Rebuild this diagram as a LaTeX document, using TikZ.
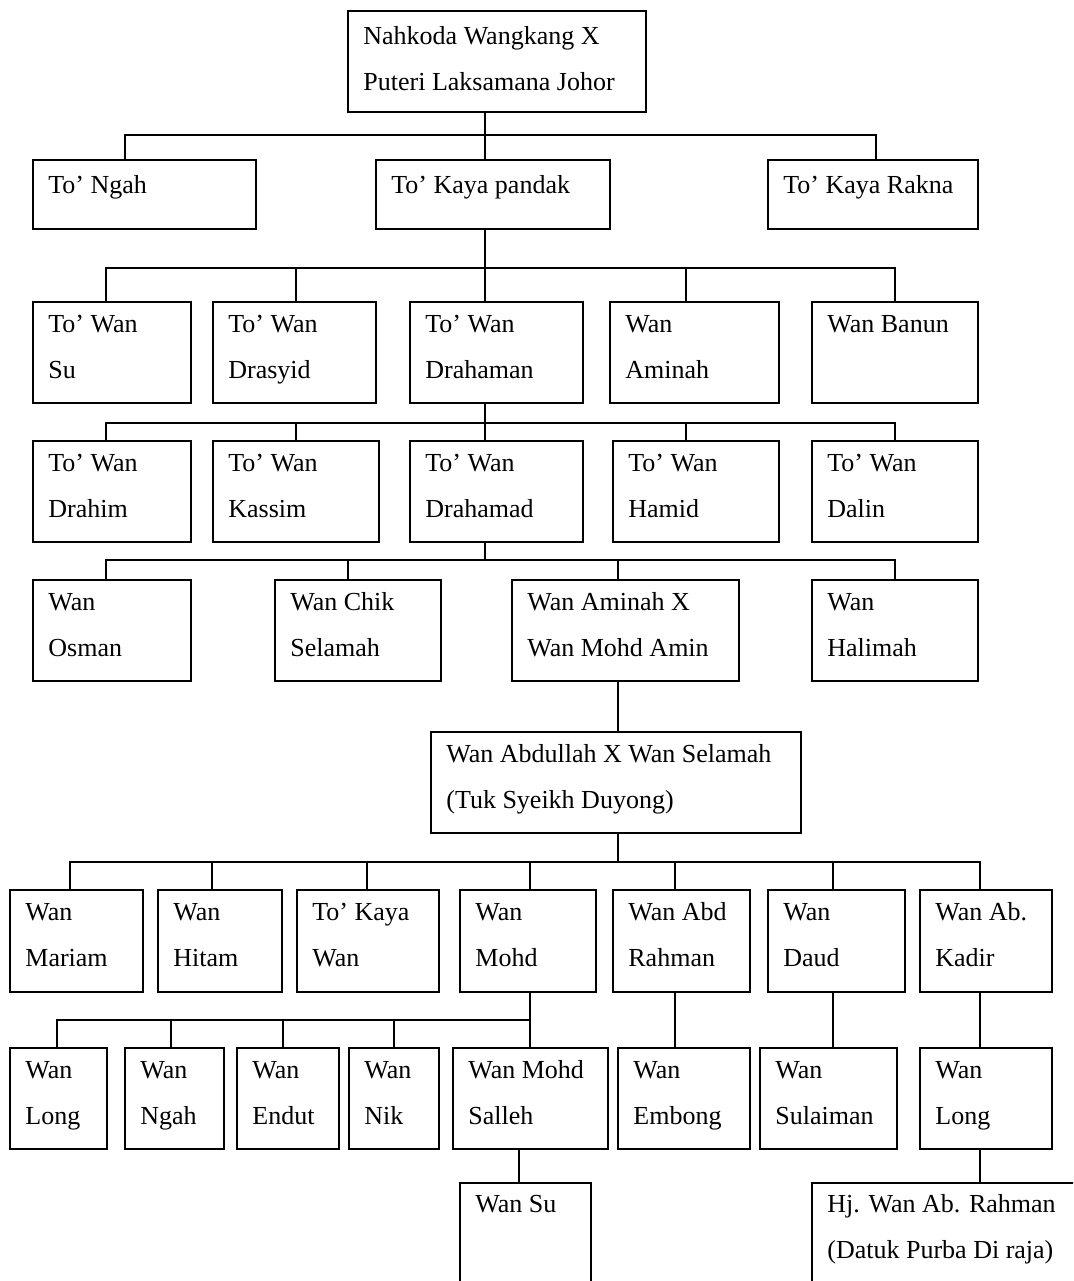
\documentclass[tikz,border=0pt]{standalone}
\usepackage{fontspec}
\setmainfont{Liberation Serif}
\tikzset{
    boxN/.style={draw, rectangle, line width=1pt, inner sep=0pt, anchor=north west},
    txtN/.style={anchor=base west, inner sep=0pt, font={\fontsize{13}{23}\selectfont}},
    bareL/.style={line width=1pt}
}
\newcommand{\boxlines}[1]{\begin{tabular}[t]{@{}l@{}}#1\end{tabular}}

\begin{document}
\begin{tikzpicture}[x=0.5pt, y=-0.5pt]
    \def \pad {16}
    \useasboundingbox (0,0) rectangle (1073,1281);
    \clip (0,0) rectangle (1073,1281);
    % left/top/width/height/name/baseline/text
    \foreach \x/\y/\w/\h/\nm/\bl/\txt in {
        347/10/298/101/r0/34/{Nahkoda Wangkang X\\Puteri Laksamana Johor},
        32/159/223/69/a1/34/{To' Ngah},
        375/159/234/69/a2/34/{To' Kaya pandak},
        767/159/210/69/a3/34/{To' Kaya Rakna},
        32/301/158/101/b1/31/{To' Wan\\Su},
        212/301/163/101/b2/31/{To' Wan\\Drasyid},
        409/301/173/101/b3/31/{To' Wan\\Drahaman},
        609/301/169/101/b4/31/{Wan\\Aminah},
        811/301/166/101/b5/31/{Wan Banun},
        32/440/158/101/c1/31/{To' Wan\\Drahim},
        212/440/166/101/c2/31/{To' Wan\\Kassim},
        409/440/173/101/c3/31/{To' Wan\\Drahamad},
        612/440/166/101/c4/31/{To' Wan\\Hamid},
        811/440/166/101/c5/31/{To' Wan\\Dalin},
        32/579/158/101/d1/31/{Wan\\Osman},
        274/579/166/101/d2/31/{Wan Chik\\Selamah},
        511/579/227/101/d3/31/{Wan Aminah X\\Wan Mohd Amin},
        811/579/166/101/d4/31/{Wan\\Halimah},
        430/731/370/101/e1/31/{Wan Abdullah X Wan Selamah\\(Tuk Syeikh Duyong)},
        9/889/133/102/f1/31/{Wan\\Mariam},
        157/889/124/102/f2/31/{Wan\\Hitam},
        296/889/142/102/f3/31/{To' Kaya\\Wan},
        459/889/136/102/f4/31/{Wan\\Mohd},
        612/889/137/102/f5/31/{Wan Abd\\Rahman},
        767/889/137/102/f6/31/{Wan\\Daud},
        919/889/132/102/f7/31/{Wan Ab.\\Kadir},
        9/1047/97/101/g1/31/{Wan\\Long},
        124/1047/99/101/g2/31/{Wan\\Ngah},
        236/1047/102/101/g3/31/{Wan\\Endut},
        348/1047/90/101/g4/31/{Wan\\Nik},
        452/1047/155/101/g5/31/{Wan Mohd\\Salleh},
        617/1047/132/101/g6/31/{Wan\\Embong},
        759/1047/137/101/g7/31/{Wan\\Sulaiman},
        919/1047/132/101/g8/31/{Wan\\Long},
        459/1182/131/140/h1/30/{Wan Su},
        811/1182/300/140/h2/30/{Hj. Wan Ab. Rahman\\(Datuk Purba Di raja)}}{
    \node[boxN, minimum width=\w*0.5pt, minimum height=\h*0.5pt] (\nm) at (\x,\y) {};
    \node[txtN] (\nm-t) at (\x+\pad,\y+\bl) {\boxlines{\txt}};}
    % buses
    \coordinate (k0) at (485,135);
    \coordinate (k1) at (485,268);
    \coordinate (k2) at (485,423);
    \coordinate (k3) at (485,560);
    \coordinate (k4) at (618,862);
    \coordinate (k5) at (530,1020);
    \draw[bareL] (r0.south -| k0) -- (k0);
    \draw[bareL] (a2.south -| k1) -- (k1);
    \draw[bareL] (b3.south -| k2) -- (k2);
    \draw[bareL] (c3.south -| k3) -- (k3);
    \draw[bareL] (e1.south -| k4) -- (k4);
    \draw[bareL] (f4.south -| k5) -- (k5);
    \foreach \ch/\x/\kk in {a1/125/k0, a2/485/k0, a3/876/k0,
        b1/106/k1, b2/296/k1, b3/485/k1, b4/686/k1, b5/895/k1,
        c1/106/k2, c2/296/k2, c3/485/k2, c4/686/k2, c5/895/k2,
        d1/106/k3, d2/348/k3, d3/618/k3, d4/895/k3,
        f1/70/k4, f2/212/k4, f3/367/k4, f4/530/k4, f5/675/k4, f6/833/k4, f7/980/k4,
        g1/57/k5, g2/171/k5, g3/283/k5, g4/394/k5, g5/530/k5}
        \draw[bareL] (\ch.north -| \x,0) |- (\kk);
    % single lines
    \foreach \pa/\ch/\x in {d3/e1/618, f5/g6/675, f6/g7/833, f7/g8/980, g5/h1/519, g8/h2/980}
        \draw[bareL] (\pa.south -| \x,0) -- (\ch.north -| \x,0);
\end{tikzpicture}
\end{document}
